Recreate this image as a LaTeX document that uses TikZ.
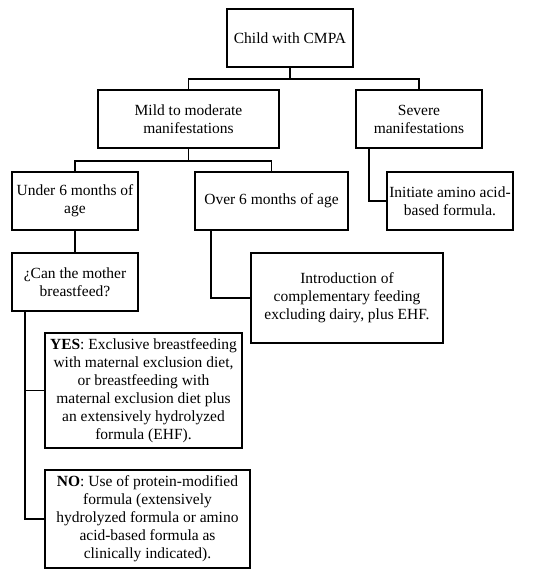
\documentclass[tikz,border=0pt]{standalone}
\usepackage{fontspec}
\setmainfont{Liberation Serif}
\begin{document}
\begin{tikzpicture}[x=1pt,y=-1pt,
  box/.style={draw, line width=2pt, align=center, inner sep=0pt, outer sep=0pt,
    font=\fontsize{15.5}{18}\selectfont},
  link/.style={line width=1.5pt}]
\useasboundingbox (0,0) rectangle (550,579);
\node[box, minimum width=126pt, minimum height=58pt] (child) at (290,38) {Child with CMPA};
\node[box, minimum width=181pt, minimum height=58pt] (mild) at (188.5,119) {Mild to moderate\\manifestations};
\node[box, minimum width=126pt, minimum height=58pt] (severe) at (419,119) {Severe\\manifestations};
\node[box, minimum width=126pt, minimum height=58pt] (under) at (75,201) {Under 6 months of\\age};
\node[box, minimum width=153pt, minimum height=58pt] (over) at (271.5,201) {Over 6 months of age};
\node[box, minimum width=126pt, minimum height=58pt] (init) at (450,201) {Initiate amino acid-\\based formula.};
\node[box, minimum width=126pt, minimum height=58pt] (can) at (75,282) {¿Can the mother\\breastfeed?};
\node[box, minimum width=192pt, minimum height=90pt] (intro) at (347,298) {Introduction of\\complementary feeding\\excluding dairy, plus EHF.};
\node[box, minimum width=197pt, minimum height=115pt] (yes) at (143.5,390.5) {\textbf{YES}: Exclusive breastfeeding\\with maternal exclusion diet,\\or breastfeeding with\\maternal exclusion diet plus\\an extensively hydrolyzed\\formula (EHF).};
\node[box, minimum width=205pt, minimum height=98pt] (no) at (147.5,519) {\textbf{NO}: Use of protein-modified\\formula (extensively\\hydrolyzed formula or amino\\acid-based formula as\\clinically indicated).};
\draw[link] (child.south) -- ++(0,12) coordinate (c1);
\draw[link] (c1) -| (mild.north);
\draw[link] (c1) -| (severe.north);
\draw[link] (mild.south) -- ++(0,13) coordinate (c2);
\draw[link] (c2) -| (under.north);
\draw[link] (c2) -| (over.north);
\draw[link] ([xshift=13pt]severe.south west) |- (init.west);
\draw[link] (under.south) -- (can.north);
\draw[link] ([xshift=16pt]over.south west) |- (intro.west);
\draw[link] ([xshift=13pt]can.south west) |- (yes.west);
\draw[link] ([xshift=13pt]can.south west) |- (no.west);
\end{tikzpicture}
\end{document}
